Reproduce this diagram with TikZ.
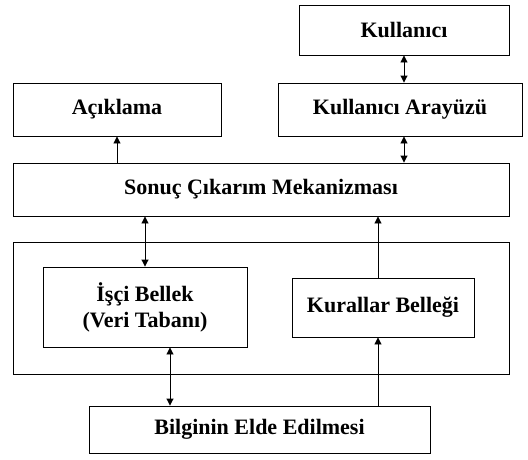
\documentclass[tikz,border=0pt]{standalone}
\usepackage{fontspec}
\setmainfont{Liberation Serif}
\usetikzlibrary{arrows.meta,calc}
\tikzset{
  blk/.style={draw, line width=0.9pt, inner sep=0pt, align=center,
    font=\fontsize{22}{26}\selectfont\bfseries},
  conn/.style={line width=0.9pt},
  tip/.style={-{Triangle[length=7pt,width=7pt]}},
  tips/.style={{Triangle[length=7pt,width=7pt]}-{Triangle[length=7pt,width=7pt]}}
}
\begin{document}
\begin{tikzpicture}[x=1pt,y=-1pt]
\useasboundingbox (0,0) rectangle (528,459);
\node[blk, minimum width=210pt, minimum height=50pt] (kul) at (404,30) {Kullanıcı};
\node[blk, minimum width=208pt, minimum height=53pt] (ack) at (117,109.5) {Açıklama};
\node[blk, minimum width=244pt, minimum height=53pt] (ara) at (400,109.5) {Kullanıcı Arayüzü};
\node[blk, minimum width=496pt, minimum height=53pt] (son) at (261,189.5) {Sonuç Çıkarım Mekanizması};
\node[draw, line width=0.9pt, minimum width=496pt, minimum height=132pt, inner sep=0pt] (cont) at (261,308) {};
\node[blk, minimum width=204pt, minimum height=80pt] (isci) at (145,307) {İşçi Bellek\\(Veri Tabanı)};
\node[blk, minimum width=182pt, minimum height=59pt] (kur) at (383,307.5) {Kurallar Belleği};
\node[blk, minimum width=341pt, minimum height=47pt] (bil) at (259.5,429.5) {Bilginin Elde Edilmesi};
\coordinate (ib) at ([xshift=25pt]isci.south);
\coordinate (kx) at ([xshift=-5pt]kur.north);
\draw[conn,tips] (kul.south) -- (kul.south |- ara.north);
\draw[conn,tips] (kul.south |- ara.south) -- (kul.south |- son.north);
\draw[conn,tip] (ack.south |- son.north) -- (ack.south);
\draw[conn,tips] (isci.north |- son.south) -- (isci.north);
\draw[conn,tip] (kx) -- (kx |- son.south);
\draw[conn,tips] (ib) -- (ib |- bil.north);
\draw[conn,tip] (kx |- bil.north) -- (kx |- kur.south);
\end{tikzpicture}
\end{document}
